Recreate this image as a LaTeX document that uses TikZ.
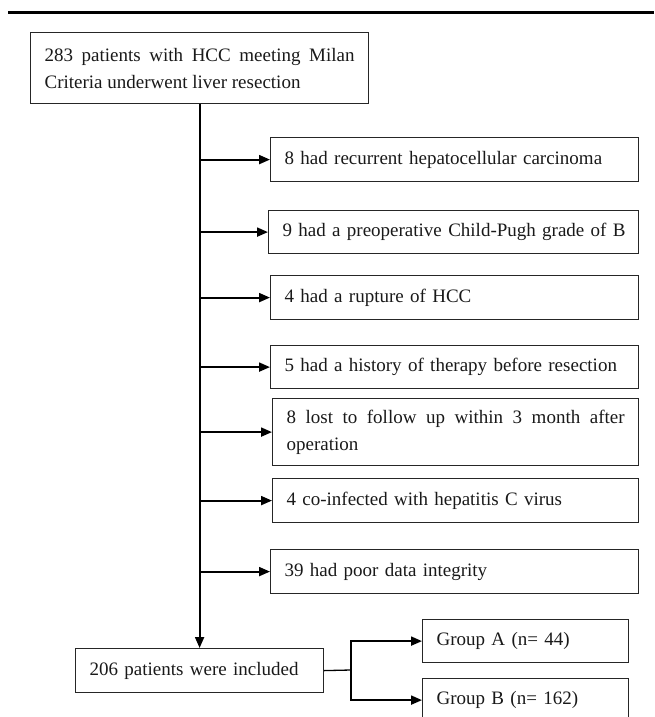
\documentclass[tikz,border=0pt]{standalone}
\usepackage{fontspec}
\setmainfont{Liberation Serif}
\usetikzlibrary{arrows.meta}
\newcommand\fsz{\fontsize{19pt}{27pt}\selectfont\hyphenpenalty=10000\exhyphenpenalty=10000}
\begin{document}
\begin{tikzpicture}[x=1pt,y=-1pt,
  bx/.style={draw=black!85, line width=1.2pt, inner xsep=14pt, inner ysep=0pt,
             anchor=north west, font=\fsz, align=left, text=black!90},
  arr/.style={line width=2pt, -{Triangle[length=11pt,width=9pt]}},
  ln/.style={line width=1.3pt}]
\useasboundingbox (0,0) rectangle (654,717);
\draw[line width=2.5pt] (8,12.5) -- (654,12.5);

\node[bx, align=justify, minimum width=338pt, minimum height=71pt, text width=310pt] (top) at (30,32)
  {283 patients with HCC meeting Milan Criteria underwent liver resection};

\node[bx, minimum width=368pt, minimum height=44pt, text width=340pt] (b1) at (270,137)
  {\mbox{8 had recurrent hepatocellular carcinoma}};
\node[bx, minimum width=370pt, minimum height=43pt, text width=342pt] (b2) at (268,210)
  {\mbox{9 had a preoperative Child-Pugh grade of B}};
\node[bx, minimum width=368pt, minimum height=44pt, text width=340pt] (b3) at (270,275)
  {\mbox{4 had a rupture of HCC}};
\node[bx, minimum width=368pt, minimum height=43pt, text width=340pt] (b4) at (270,345)
  {\mbox{5 had a history of therapy before resection}};
\node[bx, align=justify, minimum width=366pt, minimum height=67pt, text width=338pt] (b5) at (272,398)
  {8 lost to follow up within 3 month after operation};
\node[bx, minimum width=366pt, minimum height=44pt, text width=338pt] (b6) at (272,478)
  {\mbox{4 co-infected with hepatitis C virus}};
\node[bx, minimum width=368pt, minimum height=44pt, text width=340pt] (b7) at (270,549)
  {\mbox{39 had poor data integrity}};

\node[bx, minimum width=248pt, minimum height=44pt, text width=220pt] (inc) at (75,648)
  {\mbox{206 patients were included}};
\node[bx, minimum width=206pt, minimum height=43pt, text width=178pt] (gA) at (422,619)
  {\mbox{Group A (n= 44)}};
\node[bx, minimum width=206pt, minimum height=43pt, text width=178pt] (gB) at (422,678)
  {\mbox{Group B (n= 162)}};

\draw[arr] (top.south) -- (inc.north);
\foreach \b in {b1,b2,b3,b4,b5,b6,b7}
  \draw[arr] (top.south |- \b.west) -- (\b.west);

\coordinate (j) at (351,670);
\draw[ln] (inc.east) -- (j);
\draw[arr] (j) |- (gA.west);
\draw[arr] (j) |- (gB.west);
\end{tikzpicture}
\end{document}
